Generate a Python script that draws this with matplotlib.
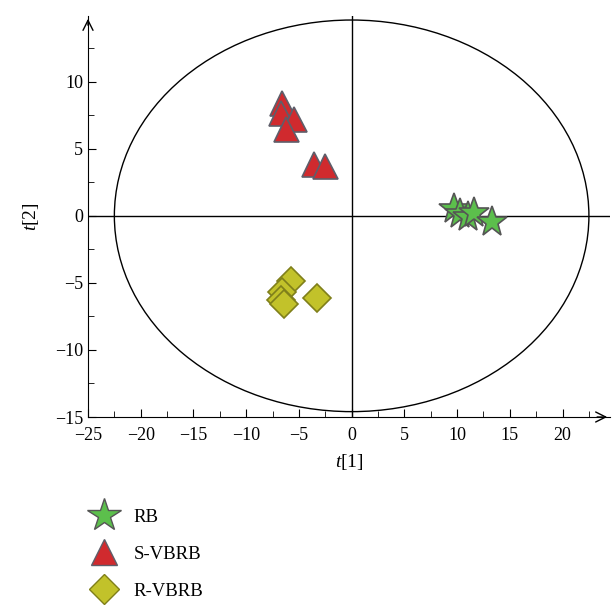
import matplotlib.pyplot as plt
from matplotlib.patches import Ellipse
from matplotlib.lines import Line2D
from matplotlib.ticker import MultipleLocator

plt.rcParams['font.family'] = ['Liberation Serif', 'DejaVu Serif']
plt.rcParams['mathtext.fontset'] = 'custom'
plt.rcParams['mathtext.it'] = 'Liberation Serif:italic'
plt.rcParams['mathtext.rm'] = 'Liberation Serif'

# score values
rb_t1 = [9.7, 10.3, 11.0, 11.6, 13.3]
rb_t2 = [0.5, 0.15, -0.1, 0.2, -0.45]
svbrb_t1 = [-6.6, -6.7, -5.5, -6.2, -3.6, -2.5]
svbrb_t2 = [8.4, 7.7, 7.2, 6.5, 3.9, 3.7]
rvbrb_t1 = [-5.75, -6.6, -6.7, -6.4, -3.3]
rvbrb_t2 = [-4.85, -5.7, -6.3, -6.6, -6.1]
ellipse_a = 22.5
ellipse_b = 14.6

fig = plt.figure(figsize=(6.13, 6.05), dpi=100)
ax = fig.add_axes([88/613, 188/605, 522/613, 401/605])
ax.set_xlim(-25, 24.5)
ax.set_ylim(-15, 14.9)

ax.add_patch(Ellipse((0, 0), 2*ellipse_a, 2*ellipse_b, fill=False, edgecolor='k', lw=1))
ax.axhline(0, color='k', lw=1)
ax.axvline(0, color='k', lw=1)

ax.plot(rvbrb_t1, rvbrb_t2, 'D', ms=14, mfc='#c2c22a', mec='#7f7f1a', mew=1.2, ls='none')
ax.plot(svbrb_t1, svbrb_t2, '^', ms=18, mfc='#d02a2e', mec='#5e5e6a', mew=1.2, ls='none')
ax.plot(rb_t1, rb_t2, '*', ms=23, mfc='#5cbf4c', mec='#555555', mew=1.2, ls='none')

for s in ['top', 'right']:
    ax.spines[s].set_visible(False)
ax.annotate('', xy=(1.0, 0), xytext=(0.97, 0), xycoords='axes fraction',
            arrowprops=dict(arrowstyle='->', lw=1, color='k', mutation_scale=18))
ax.annotate('', xy=(0, 1.0), xytext=(0, 0.97), xycoords='axes fraction',
            arrowprops=dict(arrowstyle='->', lw=1, color='k', mutation_scale=18))

ax.xaxis.set_minor_locator(MultipleLocator(2.5))
ax.yaxis.set_minor_locator(MultipleLocator(2.5))
ax.set_xticks(range(-25, 25, 5))
ax.set_yticks(range(-15, 15, 5))
ax.tick_params(which='both', direction='in', labelsize=13)
ax.tick_params(which='major', length=6)
ax.tick_params(which='minor', length=4)
ax.tick_params(axis='x', pad=7)
ax.set_xticklabels(['\u221225', '\u221220', '\u221215', '\u221210', '\u22125', '0', '5', '10', '15', '20'])
ax.set_yticklabels(['\u221215', '\u221210', '\u22125', '0', '5', '10'])

ax.set_xlabel('$\\mathit{t}$[1]', fontsize=14, labelpad=6)
ax.set_ylabel('$\\mathit{t}$[2]', fontsize=14, labelpad=10)

handles = [
    Line2D([], [], marker='*', ms=25, mfc='#5cbf4c', mec='#555555', ls='none'),
    Line2D([], [], marker='^', ms=19, mfc='#d02a2e', mec='#5e5e6a', ls='none'),
    Line2D([], [], marker='D', ms=15, mfc='#c2c22a', mec='#7f7f1a', ls='none'),
]
fig.legend(handles, ['RB', 'S-VBRB', 'R-VBRB'], loc='upper left',
           bbox_to_anchor=(68/613, 1 - 492/605), frameon=False, fontsize=13.5,
           labelspacing=1.05, handletextpad=0.6, handlelength=2.0)

fig.savefig('out.png', dpi=100)
